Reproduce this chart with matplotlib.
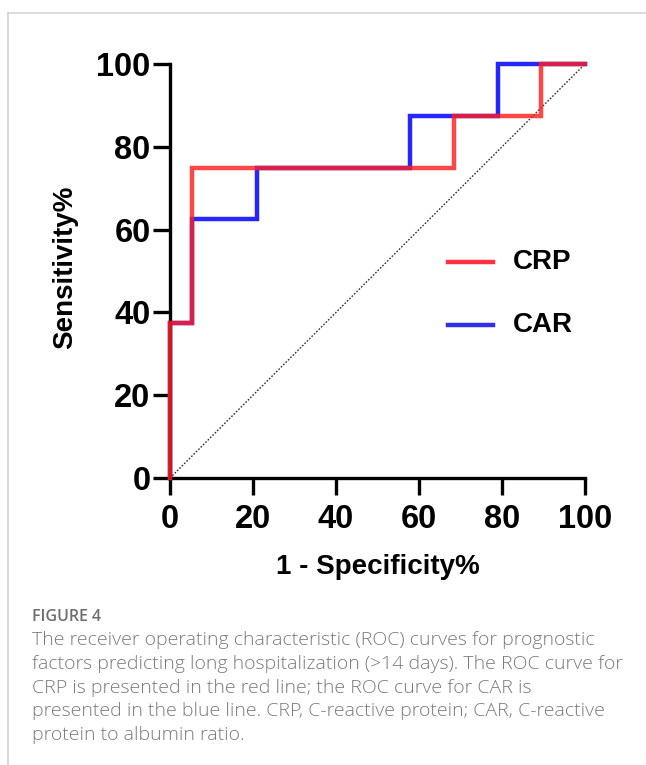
import matplotlib
matplotlib.use("Agg")
import matplotlib.pyplot as plt
from matplotlib.lines import Line2D

# Data (step ROC curves, % units)
crp_fpr = [0, 0, 5.26, 5.26, 68.42, 68.42, 89.47, 89.47, 100]
crp_tpr = [0, 37.5, 37.5, 75, 75, 87.5, 87.5, 100, 100]
car_fpr = [0, 0, 5.26, 5.26, 21.05, 21.05, 57.89, 57.89, 78.95, 78.95, 100]
car_tpr = [0, 37.5, 37.5, 62.5, 62.5, 75, 75, 87.5, 87.5, 100, 100]
ref_line = [0, 100]
xticks = [0, 20, 40, 60, 80, 100]
yticks = [0, 20, 40, 60, 80, 100]
series_names = ['CRP', 'CAR']

plt.rcParams['font.family'] = ['Liberation Sans', 'DejaVu Sans']

W, H = 646, 765
fig = plt.figure(figsize=(W / 100, H / 100), dpi=100)
ax = fig.add_axes([170 / W, 1 - 478 / H, 415 / W, 414 / H])

ax.plot(ref_line, ref_line, color='#333333', lw=1.0, ls=(0, (1.2, 1.2)), clip_on=False, zorder=1)
ax.plot(car_fpr, car_tpr, color='#2626ff', lw=3.2, clip_on=False, zorder=2, solid_joinstyle='miter')
ax.plot(crp_fpr, crp_tpr, color='#ff1f1f', lw=3.2, alpha=0.82, clip_on=False, zorder=3, solid_joinstyle='miter')

ax.set_xlim(0, 100)
ax.set_ylim(0, 100)
ax.set_xticks(xticks)
ax.set_yticks(yticks)
for s in ['top', 'right']:
    ax.spines[s].set_visible(False)
for s in ['left', 'bottom']:
    ax.spines[s].set_linewidth(2.4)
ax.tick_params(axis='both', length=12, width=2.4, labelsize=23.5)
ax.tick_params(axis='x', pad=7)
ax.tick_params(axis='y', pad=2)
for lab in ax.get_xticklabels() + ax.get_yticklabels():
    lab.set_fontweight('bold')

fig.text(378 / W, 1 - 567 / H, '1 - Specificity%', ha='center', va='center',
         fontsize=20, fontweight='bold')
fig.text(65 / W, 1 - 267 / H, 'Sensitivity%', ha='center', va='center',
         rotation=90, fontsize=20, fontweight='bold')

# legend (drawn manually)
leg_colors = ['#ff3040', '#3030e8']
leg_y = [262, 325]
for name, c, yy in zip(series_names, leg_colors, leg_y):
    fig.add_artist(Line2D([448 / W, 493 / W], [1 - yy / H, 1 - yy / H], color=c, lw=3.2))
    fig.text(513 / W, 1 - yy / H, name, ha='left', va='center', fontsize=20, fontweight='bold')

# border lines
fig.add_artist(Line2D([8 / W, 1], [1 - 13 / H, 1 - 13 / H], color='#d4d4d4', lw=1.2))
fig.add_artist(Line2D([8 / W, 8 / W], [0, 1 - 13 / H], color='#d4d4d4', lw=1.2))

# caption
cap_font = ['Open Sans', 'DejaVu Sans']
fig.text(32 / W, 1 - 617 / H, 'FIGURE 4', ha='left', va='center', fontsize=11.5,
         color='#6e6e6e', family=cap_font, fontweight='semibold')
cap = ["The receiver operating characteristic (ROC) curves for prognostic",
       "factors predicting long hospitalization (>14 days). The ROC curve for",
       "CRP is presented in the red line; the ROC curve for CAR is",
       "presented in the blue line. CRP, C-reactive protein; CAR, C-reactive",
       "protein to albumin ratio."]
for i, line in enumerate(cap):
    fig.text(32 / W, 1 - (640 + 23.8 * i) / H, line, ha='left', va='center',
             fontsize=14, color='#7a7a7a', family=cap_font, fontweight='light')

fig.savefig('out.png', dpi=100)
